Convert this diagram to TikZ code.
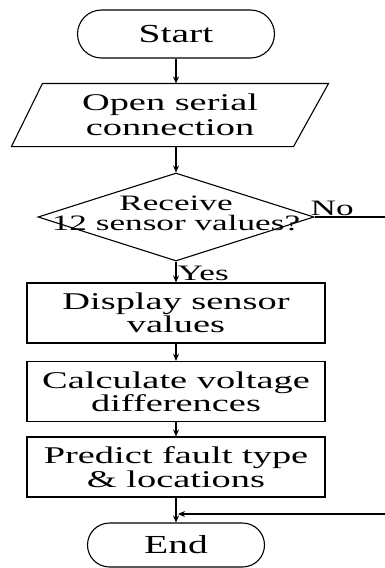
\documentclass[tikz,border=0pt]{standalone}
\usepackage{fontspec}
\setmainfont{Liberation Serif}
\usepackage{graphicx}
\usepackage{tikz}
\usetikzlibrary{arrows.meta,positioning,calc,shapes.geometric,shapes.misc}

% the lettering of the chart is drawn wide
\newcommand{\widetxt}[2][1.6]{\scalebox{#1}[1]{#2}}

\tikzset{
  base/.style={draw, line width=1.1pt, align=center, inner sep=0pt,
    font=\fontsize{24}{22}\selectfont},
  term/.style={base, rounded rectangle, minimum width=197pt, minimum height=48pt,
    font=\fontsize{26}{26}\selectfont},
  inout/.style={base, draw=none, rectangle, minimum width=316pt, minimum height=62pt},
  decide/.style={base, diamond, minimum width=276pt, minimum height=88pt},
  proc/.style={base, rectangle, minimum width=298pt, minimum height=60pt},
  lbl/.style={inner sep=1pt, font=\fontsize{22}{20}\selectfont},
  arr/.style={line width=1.1pt, -{Stealth[length=7pt,width=6pt]}}
}

\begin{document}
\begin{tikzpicture}[x=1pt,y=1pt]
\useasboundingbox (0,0) rectangle (385,-568);

\node[term] (start) at (176,-34) {\widetxt[1.52]{Start}};
\node[inout, font=\fontsize{24}{25}\selectfont] (open) at (170,-115)
  {\widetxt{Open serial}\\\widetxt{connection}};
% slanted outline of the input box
\draw[line width=1.1pt] (open.south west) -- ($(open.north west)+(31,0)$)
  -- (open.north east) -- ($(open.south east)-(35,0)$) -- cycle;
\node[decide] (dec) at (176,-217) {};
\node[lbl, align=center] (dectext) at (176,-213)
  {\widetxt{Receive}\\\widetxt{12 sensor values?}};
\node[proc, font=\fontsize{24}{20}\selectfont] (disp) at (176,-313)
  {\widetxt{Display sensor}\\\widetxt{values}};
\node[proc] (calc) at (176,-391.5)
  {\widetxt{Calculate voltage}\\\widetxt{differences}};
\node[proc, font=\fontsize{24}{24}\selectfont] (pred) at (176,-467)
  {\widetxt{Predict fault type}\\\widetxt{\& locations}};
\node[term, minimum width=177pt, minimum height=44pt] (end) at (176,-545)
  {\widetxt[1.52]{End}};

\coordinate (loopx) at (395,0);
\coordinate (merge) at (178,-514);

\draw[arr] (start.south) -- (start.south |- open.north);
\draw[arr] (dec.north |- open.south) -- (dec.north);
\draw[arr] (dec.south) -- node[lbl, right, pos=0.55] (yes) {\widetxt{Yes}} (disp.north);
\draw[arr] (disp.south) -- (calc.north);
\draw[arr] (calc.south) -- (pred.north);
\draw[arr] (pred.south) -- (end.north);
\draw[arr] (dec.east) -- node[lbl, above, pos=0.22] (no) {\widetxt{No}} (dec.east -| loopx) |- (merge);

\end{tikzpicture}
\end{document}
